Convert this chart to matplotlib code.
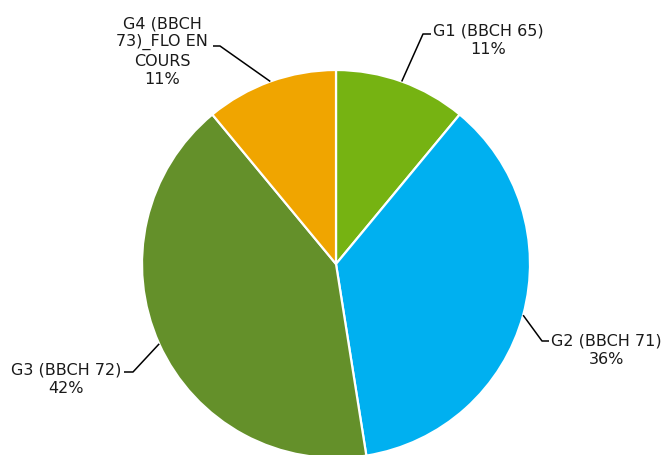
import numpy as np
import matplotlib.pyplot as plt

labels = ['G1 (BBCH 65)', 'G2 (BBCH 71)', 'G3 (BBCH 72)', 'G4 (BBCH\n73)_FLO EN\nCOURS']
values = [11.0, 36.5, 41.5, 11.0]
colors = ['#76b312', '#00b0f0', '#64902a', '#f0a500']

W, H = 665, 456
fig = plt.figure(figsize=(W / 100, H / 100), dpi=100)
ax = fig.add_axes([0, 0, 1, 1])

cx, cy, r = 336, H - 265, 194
ax.pie(values, colors=colors, startangle=90, counterclock=False,
       center=(cx, cy), radius=r,
       wedgeprops=dict(edgecolor='white', linewidth=1.6), frame=True)
ax.set_xlim(0, W)
ax.set_ylim(0, H)
ax.axis('off')

# label text position (px, from top), alignment, elbow point, line end
layout = [
    dict(tx=433, ty=31, ha='left', elbow=(423, 35), end=(431, 35)),
    dict(tx=551, ty=341, ha='left', elbow=(542, 342), end=(549, 342)),
    dict(tx=121, ty=370, ha='right', elbow=(133, 373), end=(124, 373)),
    dict(tx=162, ty=16, ha='center', elbow=(220, 47), end=(213, 47)),
]

fs = 11.5
tot = sum(values)
cum = 0
for lab, v, L in zip(labels, values, layout):
    mid = (cum + v / 2) / tot * 2 * np.pi
    cum += v
    px, py = cx + r * np.sin(mid), cy + r * np.cos(mid)
    ex, ey = L['elbow']
    qx, qy = L['end']
    ax.plot([px, ex, qx], [py, H - ey, H - qy], color='black', lw=1.1,
            solid_capstyle='butt')
    pct = f"{round(v / tot * 100):d}%"
    if L['ha'] == 'center':
        ax.text(L['tx'], H - L['ty'], lab + '\n' + pct, ha='center', va='top',
                fontsize=fs, color='#1a1a1a', linespacing=1.27,
                family='DejaVu Sans')
    else:
        t = ax.text(L['tx'], H - L['ty'], lab, ha=L['ha'], va='center',
                    fontsize=fs, color='#1a1a1a', family='DejaVu Sans')
        # percentage centered under label
        fig.canvas.draw()
        bb = t.get_window_extent()
        mx = (bb.x0 + bb.x1) / 2
        ax.text(mx, H - L['ty'] - 18.5, pct, ha='center', va='center',
                fontsize=fs, color='#1a1a1a', family='DejaVu Sans')

fig.savefig('out.png', dpi=100)
